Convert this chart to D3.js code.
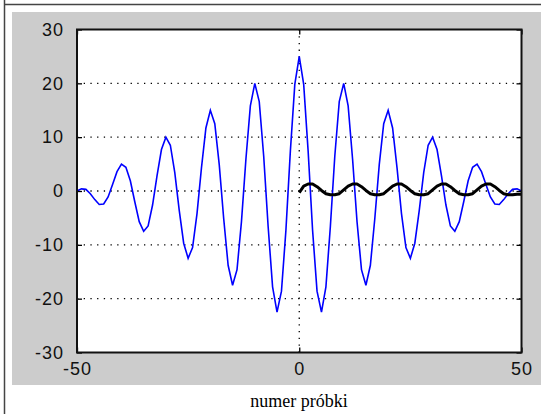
<!DOCTYPE html>
<html><head><meta charset="utf-8">
<script src="https://cdn.jsdelivr.net/npm/d3@7"></script>
<style>body{margin:0;background:#fff}svg{display:block}</style>
</head><body>
<svg id="c" width="541" height="414"></svg>
<script>
// sample numbers -50..50
const samples = d3.range(-50, 51);
// blue series, values for n = 0..50 (symmetric about 0)
const bluePos = [25, 19.8, 7.4, -7.3, -18.6, -22.5, -17.8, -6.6, 6.5, 16.6,
  20, 15.8, 5.9, -5.7, -14.6, -17.5, -13.8, -5.1, 4.9, 12.5,
  15, 11.7, 4.3, -4.2, -10.5, -12.5, -9.7, -3.6, 3.4, 8.5,
  10, 7.7, 2.8, -2.6, -6.5, -7.5, -5.7, -2.0, 1.9, 4.4,
  5, 3.6, 1.2, -1.1, -2.4, -2.5, -1.6, -0.5, 0.3, 0.4, 0];
const blueValues = bluePos.slice(1).reverse().concat(bluePos);
// black series, n = 0..50
const blackSamples = d3.range(0, 51);
const blackValues = [-0.3, 0.9, 1.3, 1.3, 0.8, 0.1, -0.5, -0.7, -0.7, -0.5,
  0.2, 0.9, 1.3, 1.3, 0.8, 0.1, -0.5, -0.7, -0.7, -0.5,
  0.2, 0.9, 1.3, 1.3, 0.8, 0.1, -0.5, -0.7, -0.7, -0.5,
  0.2, 0.9, 1.3, 1.3, 0.8, 0.1, -0.5, -0.7, -0.7, -0.5,
  0.2, 0.9, 1.3, 1.3, 0.8, 0.1, -0.5, -0.7, -0.7, -0.6, -0.6];
const xTicks = [-50, 0, 50];
const yTicks = [-30, -20, -10, 0, 10, 20, 30];
const xLabel = "numer próbki";

const svg = d3.select("#c");
const L = 77, R = 521.5, T = 29.5, B = 352.5;
const x = d3.scaleLinear().domain([-50, 50]).range([L, R]);
const y = d3.scaleLinear().domain([-30, 30]).range([B, T]);

// outer frame lines
svg.append("line").attr("x1", 4.5).attr("x2", 4.5).attr("y1", 0).attr("y2", 414)
  .attr("stroke", "#444").attr("stroke-width", 1.5);
svg.append("line").attr("x1", 4).attr("x2", 541).attr("y1", 4.5).attr("y2", 4.5)
  .attr("stroke", "#444").attr("stroke-width", 1.5);
// gray panel
svg.append("rect").attr("x", 12).attr("y", 12).attr("width", 529).attr("height", 373)
  .attr("fill", "#cccccc");
// axes background
svg.append("rect").attr("x", L).attr("y", T).attr("width", R - L).attr("height", B - T)
  .attr("fill", "#fff");

// grid
const gridY = yTicks.filter(v => v !== 30 && v !== -30);
svg.append("g").selectAll("line").data(gridY).join("line")
  .attr("x1", L).attr("x2", R).attr("y1", d => y(d)).attr("y2", d => y(d))
  .attr("stroke", "#000").attr("stroke-width", 1.3).attr("stroke-dasharray", "1.3,5.4");
svg.append("g").selectAll("line").data(xTicks.filter(v => v !== -50 && v !== 50)).join("line")
  .attr("x1", d => x(d)).attr("x2", d => x(d)).attr("y1", T).attr("y2", B)
  .attr("stroke", "#000").attr("stroke-width", 1.3).attr("stroke-dasharray", "1.3,5.4");

// data lines
const clip = svg.append("clipPath").attr("id", "clp").append("rect")
  .attr("x", L).attr("y", T).attr("width", R - L).attr("height", B - T);
const lineB = d3.line().x((d, i) => x(samples[i])).y(d => y(d));
svg.append("path").attr("d", lineB(blueValues)).attr("fill", "none")
  .attr("stroke", "#0000ff").attr("stroke-width", 1.6).attr("clip-path", "url(#clp)");
const lineK = d3.line().x((d, i) => x(blackSamples[i])).y(d => y(d));
svg.append("path").attr("d", lineK(blackValues)).attr("fill", "none")
  .attr("stroke", "#000").attr("stroke-width", 3).attr("stroke-linejoin", "round")
  .attr("clip-path", "url(#clp)");

// axes with inward ticks
const fontFam = "'Liberation Sans', Arial, Helvetica, sans-serif";
const fmt = d => String(d);
const ax = svg.append("g").attr("transform", `translate(0,${B})`)
  .call(d3.axisBottom(x).tickValues(xTicks).tickSize(-5).tickPadding(10).tickFormat(fmt));
const ax2 = svg.append("g").attr("transform", `translate(0,${T})`)
  .call(d3.axisTop(x).tickValues(xTicks).tickSize(-5).tickFormat(""));
const ay = svg.append("g").attr("transform", `translate(${L},0)`)
  .call(d3.axisLeft(y).tickValues(yTicks).tickSize(-5).tickPadding(13).tickFormat(fmt));
const ay2 = svg.append("g").attr("transform", `translate(${R},0)`)
  .call(d3.axisRight(y).tickValues(yTicks).tickSize(-5).tickFormat(""));
[ax, ax2, ay, ay2].forEach(g => {
  g.select(".domain").remove();
  g.selectAll(".tick line").attr("stroke", "#000").attr("stroke-width", 1.3);
  g.selectAll("text").attr("font-family", fontFam).attr("font-size", 18)
    .attr("fill", "#111").attr("letter-spacing", 1);
});
ax.selectAll("text").attr("dy", "0.72em");
// axes box
svg.append("rect").attr("x", L).attr("y", T).attr("width", R - L).attr("height", B - T)
  .attr("fill", "none").attr("stroke", "#111").attr("stroke-width", 2);

// x label
svg.append("text").attr("x", 299).attr("y", 407).attr("text-anchor", "middle")
  .attr("font-family", "'Liberation Serif', 'Times New Roman', serif").attr("font-size", 18)
  .attr("fill", "#000").text(xLabel);
</script>
</body></html>
